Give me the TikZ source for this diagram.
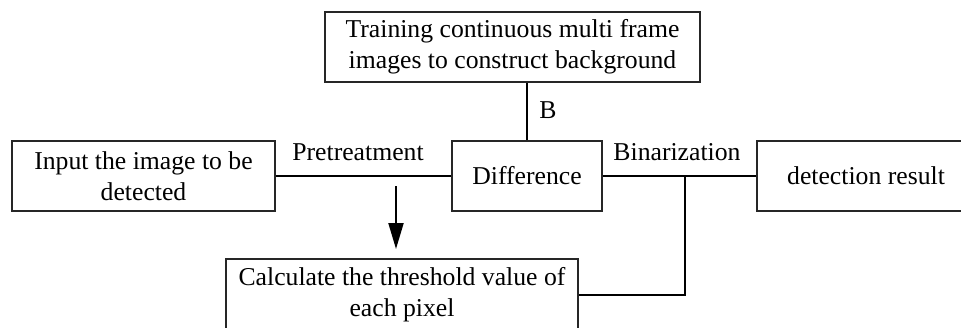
\documentclass[tikz,border=0pt]{standalone}
\usepackage{fontspec}
\setmainfont{Liberation Serif}
\usetikzlibrary{arrows.meta}
\tikzset{
  box/.style={draw=black!85, line width=1.1pt, inner sep=0pt, align=center,
              font=\fontsize{25.7}{31}\selectfont},
  wire/.style={draw=black, line width=2pt},
  lbl/.style={inner sep=0pt, font=\fontsize{25.7}{31}\selectfont},
  flow/.style={wire, -{Triangle[length=26pt,width=15pt]}}
}
\begin{document}
\begin{tikzpicture}[x=1pt, y=-1pt]
  \useasboundingbox (0,0) rectangle (961,327);
  \clip (0,0) rectangle (961,327);

  % process boxes
  \node[box, minimum width=375pt, minimum height=70pt] (train) at (512.5,47)
       {Training continuous multi frame\\images to construct background};
  \node[box, minimum width=263pt, minimum height=70pt] (input) at (143.5,176)
       {Input the image to be\\detected};
  \node[box, minimum width=150pt, minimum height=70pt] (diff) at (527,176)
       {Difference};
  \node[box, minimum width=218pt, minimum height=70pt] (det) at (866,176)
       {detection result};
  \node[box, minimum width=352pt, minimum height=72pt] (calc) at (402,295)
       {Calculate the threshold value of\\each pixel};

  % connectors
  \draw[wire] (input.east) -- (diff.west);
  \draw[wire] (diff.north) -- (diff.north |- train.south);
  \draw[wire] (diff.east) -- (det.west);
  \coordinate (junc) at (685,176);
  \draw[wire] (junc) |- (calc.east);
  \coordinate (astart) at (396,186);
  \coordinate (aend) at (396,249);
  \draw[flow] (astart) -- (aend);

  % labels
  \node[lbl] (pre) at (358,152) {Pretreatment};
  \node[lbl] (bin) at (677,152) {Binarization};
  \node[lbl] (bl) at (548,110) {B};
\end{tikzpicture}
\end{document}
